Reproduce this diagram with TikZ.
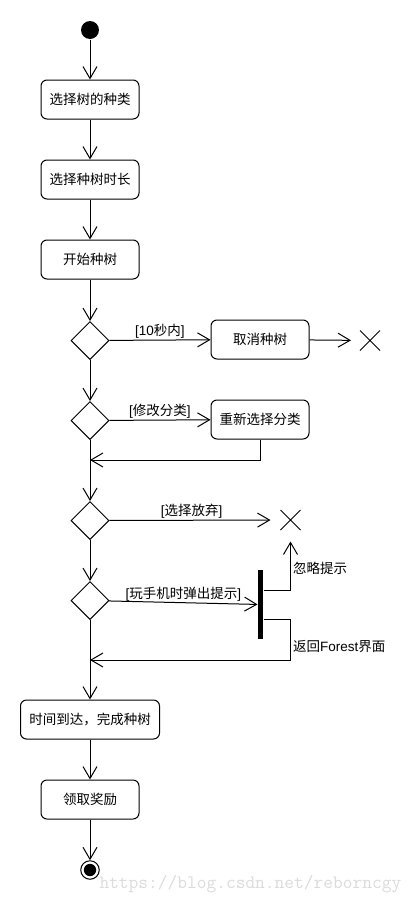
\documentclass[tikz,border=0pt]{standalone}
\usepackage{fontspec}
\setmainfont{Liberation Sans}
\newfontfamily\cjk{Noto Sans CJK SC}
\usetikzlibrary{arrows.meta,shapes.geometric,shapes.misc}
\tikzset{
  act/.style={draw,rounded corners=6pt,minimum width=98pt,minimum height=39pt,inner sep=0pt,font=\cjk\fontsize{13.5}{16}\selectfont},
  choice/.style={draw,diamond,minimum width=38pt,minimum height=38pt,inner sep=0pt},
  stopx/.style={draw,cross out,minimum size=19pt,inner sep=0pt},
  flow/.style={-{Straight Barb[length=12pt,width=14pt]}},
  guard/.style={font=\fontsize{13.5}{16}\selectfont,inner sep=1pt}
}

\begin{document}
\begin{tikzpicture}[x=1pt,y=-1pt,line width=1pt]
	\useasboundingbox (0,0) rectangle (420,900);
	\node[circle,fill,minimum size=18pt,inner sep=0pt] (start) at (90,30) {};
	\node[act] (choose) at (90,99.5) {选择树的种类};
	\node[act] (duration) at (90,179.5) {选择种树时长};
	\node[act] (plant) at (90,259.5) {开始种树};
	\node[choice] (d1) at (90,340.5) {};
	\node[act] (cancel) at (260,339.5) {取消种树};
	\node[stopx] (x1) at (370,340.5) {};
	\node[choice] (d2) at (90,420.5) {};
	\node[act] (rechoose) at (260,419.5) {重新选择分类};
	\coordinate (back1) at (90,460);
	\node[choice] (d3) at (90,520.5) {};
	\node[stopx] (x2) at (290.5,520) {};
	\node[choice] (d4) at (90,600.5) {};
	\node[fill,minimum width=5pt,minimum height=69pt,inner sep=0pt] (bar) at (260.5,604.5) {};
	\coordinate (back2) at (90,660);
	\node[act,minimum width=139pt] (finish) at (90,719.5) {时间到达，完成种树};
	\node[act] (reward) at (90,799.5) {领取奖励};
	\node[circle,draw,minimum size=18.5pt,inner sep=0pt] (stop) at (90,870) {};
	\fill (stop.center) circle (6.2);
	\node[anchor=base west,inner sep=0pt,text=black!14,font=\ttfamily\fontsize{18.9}{20}\selectfont] (mark) at (99,888) {https://blog.csdn.net/reborncgy};

	\draw[flow] (start) -- (choose);
	\draw[flow] (choose) -- (duration);
	\draw[flow] (duration) -- (plant);
	\draw[flow] (plant) -- (d1);
	\draw[flow] (d1) -- node[guard,above] (g1) {[10{\cjk 秒内}]} (cancel);
	\draw[flow,shorten >=9pt] (cancel) -- (x1);
	\draw[flow] (d1) -- (d2);
	\draw[flow] (d2) -- node[guard,above] (g2) {[{\cjk 修改分类}]} (rechoose);
	\draw[flow] (rechoose) |- (back1);
	\draw[flow] (d2) -- (d3);
	\draw[flow,shorten >=10pt] (d3) -- node[guard,above,pos=.48] (g3) {[{\cjk 选择放弃}]} (x2);
	\draw[flow] (d3) -- (d4);
	\draw[flow] (d4) -- node[guard,above] (g4) {[{\cjk 玩手机时弹出提示}]} (bar);
	\draw[flow,shorten >=11.5pt] ([yshift=14pt]bar.east) -| node[guard,right,pos=.68,xshift=1pt] (g5) {\cjk 忽略提示} (x2);
	\draw[flow] ([yshift=-15pt]bar.east) -| node[guard,right,pos=.83,xshift=1pt] (g6) {{\cjk 返回}Forest{\cjk 界面}} (x2 |- back2) -- (back2);
	\draw[flow] (d4) -- (finish);
	\draw[flow] (finish) -- (reward);
	\draw[flow] (reward) -- (stop);
\end{tikzpicture}
\end{document}
